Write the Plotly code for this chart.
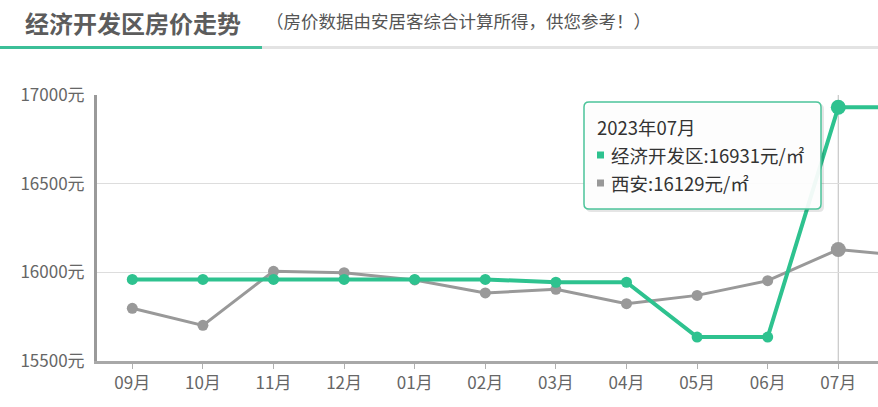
import plotly.graph_objects as go

# ---- data ----
months = ["09月", "10月", "11月", "12月", "01月", "02月", "03月", "04月", "05月", "06月", "07月", "08月"]
district_name = "经济开发区"
city_name = "西安"
district_prices = [15960, 15960, 15960, 15960, 15960, 15960, 15944, 15944, 15635, 15635, 16931, 16931]
city_prices = [15797, 15701, 16006, 15998, 15957, 15884, 15904, 15823, 15870, 15953, 16129, 16090]
y_ticks = [15500, 16000, 16500, 17000]
y_tick_labels = [f"{v}元" for v in y_ticks]
focus_month = "07月"
focus_label = "2023年07月"
title_text = "经济开发区房价走势"
subtitle_text = "（房价数据由安居客综合计算所得，供您参考！）"

GREEN = "#2ec28f"
GRAY = "#999999"
W, H = 878, 407
L, R, T, B = 97, 0, 95, 46
PW, PH = W - L - R, H - T - B
FONT = "Noto Sans CJK SC"


def px(x):
    return (x - L) / PW


def py(y):
    return (H - B - y) / PH


fi = months.index(focus_month)

fig = go.Figure()
fig.add_trace(go.Scatter(
    x=months, y=city_prices, mode="lines+markers", name=city_name,
    line=dict(color=GRAY, width=3), marker=dict(size=11, color=GRAY),
    hoverinfo="skip"))
fig.add_trace(go.Scatter(
    x=months, y=district_prices, mode="lines+markers", name=district_name,
    line=dict(color=GREEN, width=4), marker=dict(size=11, color=GREEN),
    hoverinfo="skip"))
# emphasised points at focus month
fig.add_trace(go.Scatter(
    x=[months[fi]], y=[city_prices[fi]], mode="markers",
    marker=dict(size=15, color=GRAY), hoverinfo="skip"))
fig.add_trace(go.Scatter(
    x=[months[fi]], y=[district_prices[fi]], mode="markers",
    marker=dict(size=15, color=GREEN), hoverinfo="skip"))

shapes = []
# axis pointer line
shapes.append(dict(type="line", xref="x", yref="paper", x0=fi, x1=fi, y0=0, y1=1,
                   line=dict(color="#c8c8c8", width=1.2), layer="below"))
# header underline
shapes.append(dict(type="line", xref="paper", yref="paper", x0=px(262), x1=px(W), y0=py(47.5), y1=py(47.5),
                   line=dict(color="#e3e3e3", width=3)))
shapes.append(dict(type="line", xref="paper", yref="paper", x0=px(0), x1=px(262), y0=py(47.5), y1=py(47.5),
                   line=dict(color="#3cbf98", width=3)))


def rounded_rect(x0, y0, x1, y1, r):
    X = lambda v: f"{px(v):.5f}"
    Y = lambda v: f"{py(v):.5f}"
    return (f"M {X(x0 + r)},{Y(y0)} L {X(x1 - r)},{Y(y0)} Q {X(x1)},{Y(y0)} {X(x1)},{Y(y0 + r)} "
            f"L {X(x1)},{Y(y1 - r)} Q {X(x1)},{Y(y1)} {X(x1 - r)},{Y(y1)} "
            f"L {X(x0 + r)},{Y(y1)} Q {X(x0)},{Y(y1)} {X(x0)},{Y(y1 - r)} "
            f"L {X(x0)},{Y(y0 + r)} Q {X(x0)},{Y(y0)} {X(x0 + r)},{Y(y0)} Z")


# tooltip shadow + box
shapes.append(dict(type="path", xref="paper", yref="paper", path=rounded_rect(586, 104, 824, 212, 5),
                   fillcolor="rgba(0,0,0,0.10)", line=dict(width=0)))
shapes.append(dict(type="path", xref="paper", yref="paper", path=rounded_rect(584, 102, 821, 209, 5),
                   fillcolor="rgba(255,255,255,0.93)", line=dict(color="#4cc49a", width=1.5)))
# legend squares in tooltip
for yy, col in [(155, GREEN), (183, GRAY)]:
    shapes.append(dict(type="rect", xref="paper", yref="paper", x0=px(597), x1=px(604),
                       y0=py(yy - 3.5), y1=py(yy + 3.5), fillcolor=col, line=dict(width=0)))

annotations = [
    dict(text=f"<b>{title_text}</b>", xref="paper", yref="paper", x=px(23), y=py(22),
         xanchor="left", yanchor="middle", showarrow=False,
         font=dict(family=FONT, size=24, color="#5c5c5c")),
    dict(text=subtitle_text, xref="paper", yref="paper", x=px(264), y=py(21),
         xanchor="left", yanchor="middle", showarrow=False,
         font=dict(family=FONT, size=17.5, color="#555555")),
    dict(text=focus_label, xref="paper", yref="paper", x=px(595), y=py(127),
         xanchor="left", yanchor="middle", showarrow=False,
         font=dict(family=FONT, size=18.5, color="#333333")),
    dict(text=f"{district_name}:{district_prices[fi]}元/㎡", xref="paper", yref="paper", x=px(609), y=py(155),
         xanchor="left", yanchor="middle", showarrow=False,
         font=dict(family=FONT, size=18.5, color="#333333")),
    dict(text=f"{city_name}:{city_prices[fi]}元/㎡", xref="paper", yref="paper", x=px(609), y=py(183),
         xanchor="left", yanchor="middle", showarrow=False,
         font=dict(family=FONT, size=18.5, color="#333333")),
]

fig.update_layout(
    width=W, height=H,
    margin=dict(l=L, r=R, t=T, b=B),
    paper_bgcolor="white", plot_bgcolor="white",
    showlegend=False,
    shapes=shapes, annotations=annotations,
    font=dict(family=FONT, color="#666666", size=17),
    hovermode=False,
)
fig.update_xaxes(
    type="category", categoryorder="array", categoryarray=months,
    range=[-0.5, -0.5 + PW / 70.6],
    showgrid=False, showline=True, linecolor="#a8a8a8", linewidth=2.5,
    ticks="outside", ticklen=5, tickcolor="#b0b0b0", tickwidth=1,
    tickfont=dict(family=FONT, size=17, color="#666666"), fixedrange=True,
)
fig.update_yaxes(
    range=[y_ticks[0], y_ticks[-1]], tickvals=y_ticks, ticktext=y_tick_labels,
    showgrid=True, gridcolor="#dddddd", gridwidth=1,
    showline=True, linecolor="#9a9a9a", linewidth=3, zeroline=False,
    ticks="", ticklabelstandoff=6,
    tickfont=dict(family=FONT, size=17, color="#666666"), fixedrange=True,
)

fig.write_html("out.html", config={"displayModeBar": False},
               post_script="document.body.style.margin='0';document.body.style.overflow='hidden';")
